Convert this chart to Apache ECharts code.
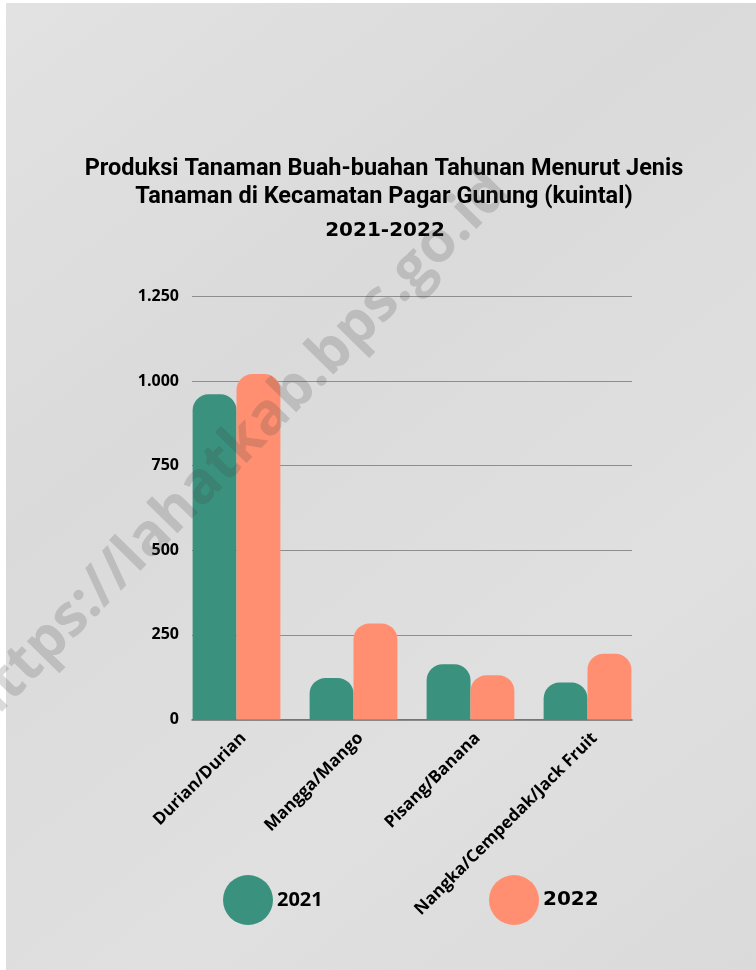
<!DOCTYPE html>
<html>
<head>
<meta charset="utf-8">
<script src="https://cdn.jsdelivr.net/npm/echarts@6/dist/echarts.min.js"></script>
<style>
html,body{margin:0;padding:0;background:#fff;}
#chart{width:756px;height:970px;}
</style>
</head>
<body>
<div id="chart"></div>
<script>
var categories = ['Durian/Durian', 'Mangga/Mango', 'Pisang/Banana', 'Nangka/Cempedak/Jack Fruit'];
var values2021 = [961, 123, 163, 109];
var values2022 = [1021, 284, 131, 194];
var seriesNames = ['2021', '2022'];
var yTicks = [0, 250, 500, 750, 1000, 1250];
var titleText = 'Produksi Tanaman Buah-buahan Tahunan Menurut Jenis\nTanaman di Kecamatan Pagar Gunung (kuintal)';
var subtitleText = '2021-2022';
var watermarkText = 'https://lahatkab.bps.go.id';

var GREEN = '#39917e';
var ORANGE = '#ff8f70';

function fmt(v) {
  return String(v).replace(/\B(?=(\d{3})+(?!\d))/g, '.');
}

var yMin = yTicks[0], yMax = yTicks[yTicks.length - 1], yStep = yTicks[1] - yTicks[0];

var chart = echarts.init(document.getElementById('chart'), null, {renderer: 'canvas'});
chart.setOption({
  backgroundColor: '#ffffff',
  animation: false,
  graphic: [
    {
      type: 'rect', left: 6, top: 3, z: -10, silent: true,
      shape: {width: 750, height: 967},
      style: {
        fill: new echarts.graphic.LinearGradient(0, 0, 1, 1, [
          {offset: 0, color: '#e2e2e2'},
          {offset: 0.35, color: '#dadada'},
          {offset: 0.7, color: '#e0e0e0'},
          {offset: 1, color: '#dadada'}
        ])
      }
    },
    {
      type: 'text', z: 100, silent: true,
      x: 236, y: 450, rotation: 45.5 * Math.PI / 180,
      style: {
        text: watermarkText,
        font: 'bold 58px "Open Sans", sans-serif',
        fill: 'rgba(70,70,70,0.2)',
        align: 'center', verticalAlign: 'middle'
      }
    }
  ],
  title: [
    {
      text: titleText, left: 379, top: 150, textAlign: 'center',
      textStyle: {fontFamily: 'Roboto', fontWeight: 'bold', fontSize: 23.5, lineHeight: 28, color: '#000'}
    },
    {
      text: subtitleText, left: 380, top: 216, textAlign: 'center',
      textStyle: {fontFamily: '"DejaVu Sans"', fontWeight: 'bold', fontSize: 20, color: '#000'}
    }
  ],
  legend: [
    {
      data: [seriesNames[0]], left: 223, top: 875, icon: 'circle', padding: 0,
      itemWidth: 50, itemHeight: 50, itemGap: 0,
      textStyle: {fontFamily: '"Open Sans"', fontWeight: 'bold', fontSize: 20, color: '#000', padding: [0, 0, 0, -1]}
    },
    {
      data: [seriesNames[1]], left: 489, top: 875, icon: 'circle', padding: 0,
      itemWidth: 50, itemHeight: 50, itemGap: 0,
      textStyle: {fontFamily: '"DejaVu Sans"', fontWeight: 'bold', fontSize: 20, color: '#000', padding: [0, 0, 0, -1]}
    }
  ],
  grid: [
    {left: 192, right: 124, top: 296.5, bottom: 250.5, containLabel: false},
    {left: 178, right: 110, top: 296.5, bottom: 250.5, containLabel: false},
    {left: 185, right: 103, top: 296.5, bottom: 250.5, containLabel: false}
  ],
  xAxis: [
    {
      gridIndex: 0, type: 'category', data: categories,
      axisLine: {show: true, lineStyle: {color: '#6e6e6e', width: 1.5}},
      axisTick: {show: false}, axisLabel: {show: false}
    },
    {
      gridIndex: 1, type: 'category', data: categories, show: false
    },
    {
      gridIndex: 2, type: 'category', data: categories,
      axisLine: {show: false}, axisTick: {show: false},
      axisLabel: {
        rotate: 45, interval: 0, margin: 16,
        fontFamily: '"Open Sans"', fontWeight: 'bold', fontSize: 17, color: '#000'
      }
    }
  ],
  yAxis: [
    {
      gridIndex: 0, type: 'value', min: yMin, max: yMax, interval: yStep,
      axisLine: {show: false}, axisTick: {show: false},
      splitLine: {lineStyle: {color: '#8e8e8e', width: 1}},
      axisLabel: {
        margin: 13, formatter: fmt,
        fontFamily: '"Open Sans"', fontWeight: 'bold', fontSize: 16, color: '#000'
      }
    },
    {
      gridIndex: 1, type: 'value', min: yMin, max: yMax, interval: yStep, show: false,
      splitLine: {show: false}
    },
    {
      gridIndex: 2, type: 'value', min: yMin, max: yMax, interval: yStep, show: false,
      splitLine: {show: false}
    }
  ],
  series: [
    {
      name: seriesNames[0], type: 'bar', data: values2021,
      xAxisIndex: 1, yAxisIndex: 1,
      barGap: '0%', barCategoryGap: '25%',
      itemStyle: {color: GREEN, borderRadius: [16, 16, 0, 0]}
    },
    {
      name: seriesNames[1], type: 'bar', data: values2022,
      xAxisIndex: 1, yAxisIndex: 1,
      barGap: '0%', barCategoryGap: '25%',
      itemStyle: {color: ORANGE, borderRadius: [16, 16, 0, 0]}
    }
  ]
});
</script>
</body>
</html>
